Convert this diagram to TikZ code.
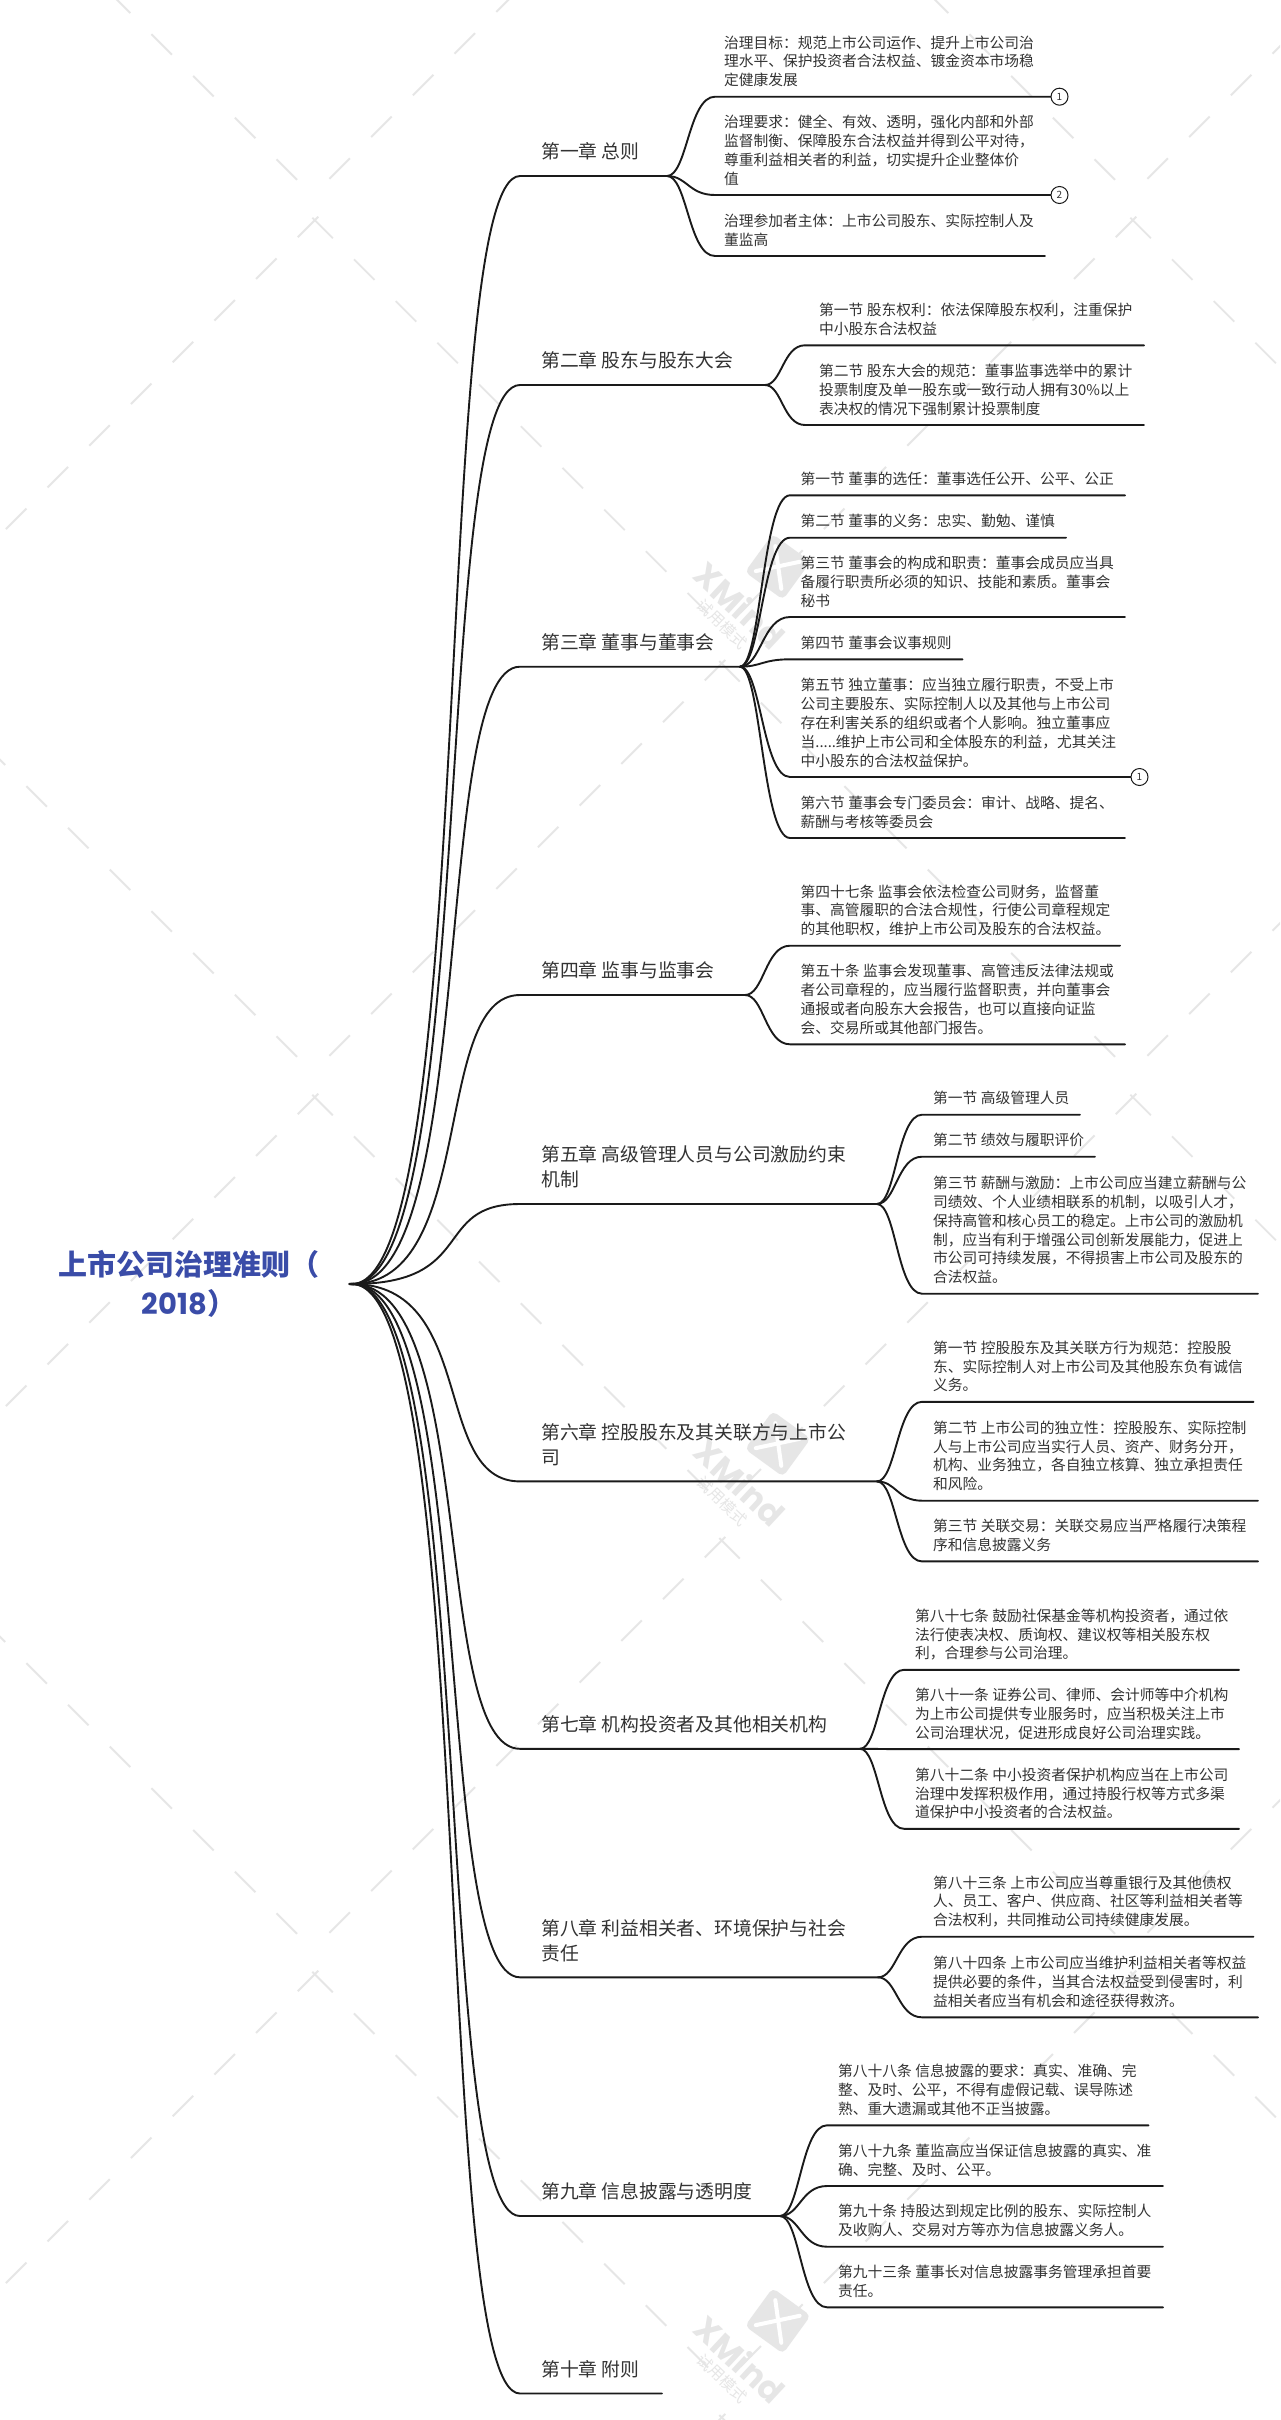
\documentclass[tikz,border=0pt]{standalone}
\usepackage{fontspec}
\setmainfont{Noto Sans CJK SC}
\newfontfamily\latinbold{Poppins}
\usetikzlibrary{calc}
\definecolor{ink}{HTML}{1A1A1A}
\definecolor{txt}{HTML}{333333}
\definecolor{wmc}{HTML}{E6E6E6}
\definecolor{rootblue}{HTML}{3A4CA8}
\tikzset{
  branch/.style={draw=ink,line width=1.9pt,line cap=round},
  twig/.style={draw=ink,line width=1.9pt,line cap=round},
  chaptext/.style={inner sep=0pt,anchor=south west,align=left,text=txt,yshift=9.4pt,font=\fontsize{18.8}{25}\selectfont},
  leaftext/.style={inner sep=0pt,anchor=south west,align=left,text=txt,yshift=5pt,font=\fontsize{14.75}{18.9}\selectfont},
  bubble/.style={circle,draw=ink,line width=1pt,fill=white,minimum size=17pt,inner sep=0pt,text=txt,font=\fontsize{10}{10}\selectfont},
  wmline/.style={draw=wmc,line width=1.9pt},
  wmcross/.style={draw=white,line width=4pt,line cap=round},
}
\newcommand{\chapnode}[4]{% name, y, xend, text
  \coordinate (#1-s) at (520,#2);
  \coordinate (#1-e) at (#3,#2);
  \node[chaptext] (#1) at (541,#2) {#4\strut};
  \draw[branch] (hub) .. controls (478,1284) and (431,#2) .. (#1-s) -- (#1-e);
}
\newcommand{\leafnode}[5]{% parent, name, y, xend, text
  \coordinate (#2-s) at (\sx,#3);
  \coordinate (#2-e) at (#4,#3);
  \node[leaftext] (#2) at (\tx,#3) {#5\strut};
  \draw[twig] let \p1=(#1-e),\p2=(#2-s) in (#1-e) .. controls ({\x1+.42*(\x2-\x1)},{\y1}) and ({\x1+.45*(\x2-\x1)},{\y2}) .. (#2-s) -- (#2-e);
}
\newcommand{\wmark}[2]{% name, y
  \node[rotate=-36,fill=wmc,rounded corners=5pt,minimum size=47pt,inner sep=0pt] (#1-logo) at (777.8,#2) {};
  \draw[wmcross] ($(#1-logo)+(-2.5,-20.7)$) -- ($(#1-logo)+(3.5,22)$);
  \draw[wmcross] ($(#1-logo)+(-22,4.3)$) -- ($(#1-logo)+(21.8,-5)$);
  \node[rotate=-43,inner sep=0pt,text=wmc] (#1-name) at (740,#2+38.5) {\fontsize{33}{33}\selectfont\latinbold\bfseries XMind};
  \node[rotate=-44,inner sep=0pt,text=wmc] (#1-trial) at (722.3,#2+57.5) {\fontsize{15.5}{15.5}\selectfont 试用模式};
}
\begin{document}
\begin{tikzpicture}[x=1pt,y=-1pt]
\fill[white] (0,0) rectangle (1280,2420);
\useasboundingbox (0,0) rectangle (1280,2420);
\begin{scope}
\clip (0,0) rectangle (1280,2420);
\foreach \i in {-1,0,1}{\foreach \j in {-1,0,1,2,3}{\foreach \k in {0,...,9}{
  \draw[wmline] ({312.3+818*\i+41.7*\k},{217.7+877*\j+41.7*\k}) -- ++(20.5,20.5);
  \draw[wmline] ({318.3+818*\i-41.7*\k},{216.7+877*\j+41.7*\k}) -- ++(-20.5,20.5);
  \draw[wmline] ({719.3+818*\i+41.7*\k},{661+877*\j-877+41.7*\k}) -- ++(20.5,20.5);
  \draw[wmline] ({725.3+818*\i-41.7*\k},{660+877*\j-877+41.7*\k}) -- ++(-20.5,20.5);
}}}
\end{scope}
\wmark{wa}{566.8}
\wmark{wb}{1443.8}
\wmark{wc}{2320.8}

\coordinate (hub) at (352,1284);
\node[inner sep=0pt,align=center,text=rootblue,font=\fontsize{29}{39}\selectfont\bfseries] (root) at (189,1284) {上市公司治理准则（\\{\latinbold 2018}）};
\fill[ink] (hub) ellipse (4pt and 1.5pt);

% chapter 1
\chapnode{c1}{176}{667}{第一章 总则}
\def\sx{715}\def\tx{724}
\leafnode{c1}{c1a}{96.7}{1051}{治理目标：规范上市公司运作、提升上市公司治\\理水平、保护投资者合法权益、镀金资本市场稳\\定健康发展}
\node[bubble] (c1an) at (1059.5,96.7) {1};
\leafnode{c1}{c1b}{195}{1051}{治理要求：健全、有效、透明，强化内部和外部\\监督制衡、保障股东合法权益并得到公平对待，\\尊重利益相关者的利益，切实提升企业整体价\\值}
\node[bubble] (c1bn) at (1059.5,195) {2};
\leafnode{c1}{c1c}{256}{1045}{治理参加者主体：上市公司股东、实际控制人及\\董监高}

% chapter 2
\chapnode{c2}{385}{765}{第二章 股东与股东大会}
\def\sx{805}\def\tx{819}
\leafnode{c2}{c2a}{345.3}{1144}{第一节 股东权利：依法保障股东权利，注重保护\\中小股东合法权益}
\leafnode{c2}{c2b}{425}{1144}{第二节 股东大会的规范：董事监事选举中的累计\\投票制度及单一股东或一致行动人拥有30\%以上\\表决权的情况下强制累计投票制度}

% chapter 3
\chapnode{c3}{666.7}{740}{第三章 董事与董事会}
\def\sx{790}\def\tx{800.5}
\leafnode{c3}{c3a}{495.3}{1125}{第一节 董事的选任：董事选任公开、公平、公正}
\leafnode{c3}{c3b}{537.7}{1066}{第二节 董事的义务：忠实、勤勉、谨慎}
\leafnode{c3}{c3c}{617}{1125}{第三节 董事会的构成和职责：董事会成员应当具\\备履行职责所必须的知识、技能和素质。董事会\\秘书}
\leafnode{c3}{c3d}{659.3}{962.5}{第四节 董事会议事规则}
\leafnode{c3}{c3e}{777}{1131}{第五节 独立董事：应当独立履行职责，不受上市\\公司主要股东、实际控制人以及其他与上市公司\\存在利害关系的组织或者个人影响。独立董事应\\当.....维护上市公司和全体股东的利益，尤其关注\\中小股东的合法权益保护。}
\node[bubble] (c3en) at (1139.5,777) {1};
\leafnode{c3}{c3f}{838}{1125}{第六节 董事会专门委员会：审计、战略、提名、\\薪酬与考核等委员会}

% chapter 4
\chapnode{c4}{995}{745}{第四章 监事与监事会}
\def\sx{790}\def\tx{800.5}
\leafnode{c4}{c4a}{945.7}{1120}{第四十七条 监事会依法检查公司财务，监督董\\事、高管履职的合法合规性，行使公司章程规定\\的其他职权，维护上市公司及股东的合法权益。}
\leafnode{c4}{c4b}{1044.3}{1125}{第五十条 监事会发现董事、高管违反法律法规或\\者公司章程的，应当履行监督职责，并向董事会\\通报或者向股东大会报告，也可以直接向证监\\会、交易所或其他部门报告。}

% chapter 5
\chapnode{c5}{1204}{877}{第五章 高级管理人员与公司激励约束\\机制}
\def\sx{922}\def\tx{933}
\leafnode{c5}{c5a}{1114.7}{1080}{第一节 高级管理人员}
\leafnode{c5}{c5b}{1156.7}{1095}{第二节 绩效与履职评价}
\leafnode{c5}{c5c}{1293.7}{1258}{第三节 薪酬与激励：上市公司应当建立薪酬与公\\司绩效、个人业绩相联系的机制，以吸引人才，\\保持高管和核心员工的稳定。上市公司的激励机\\制，应当有利于增强公司创新发展能力，促进上\\市公司可持续发展，不得损害上市公司及股东的\\合法权益。}

% chapter 6
\chapnode{c6}{1481.4}{877}{第六章 控股股东及其关联方与上市公\\司}
\def\sx{922}\def\tx{933}
\leafnode{c6}{c6a}{1401.8}{1253.5}{第一节 控股股东及其关联方行为规范：控股股\\东、实际控制人对上市公司及其他股东负有诚信\\义务。}
\leafnode{c6}{c6b}{1500.7}{1258}{第二节 上市公司的独立性：控股股东、实际控制\\人与上市公司应当实行人员、资产、财务分开，\\机构、业务独立，各自独立核算、独立承担责任\\和风险。}
\leafnode{c6}{c6c}{1561.4}{1258}{第三节 关联交易：关联交易应当严格履行决策程\\序和信息披露义务}

% chapter 7
\chapnode{c7}{1748.8}{860}{第七章 机构投资者及其他相关机构}
\def\sx{904}\def\tx{915}
\leafnode{c7}{c7a}{1669.8}{1239}{第八十七条 鼓励社保基金等机构投资者，通过依\\法行使表决权、质询权、建议权等相关股东权\\利，合理参与公司治理。}
\leafnode{c7}{c7b}{1749.1}{1239}{第八十一条 证券公司、律师、会计师等中介机构\\为上市公司提供专业服务时，应当积极关注上市\\公司治理状况，促进形成良好公司治理实践。}
\leafnode{c7}{c7c}{1828.8}{1239}{第八十二条 中小投资者保护机构应当在上市公司\\治理中发挥积极作用，通过持股行权等方式多渠\\道保护中小投资者的合法权益。}

% chapter 8
\chapnode{c8}{1977.3}{878}{第八章 利益相关者、环境保护与社会\\责任}
\def\sx{922}\def\tx{933}
\leafnode{c8}{c8a}{1936.7}{1253.5}{第八十三条 上市公司应当尊重银行及其他债权\\人、员工、客户、供应商、社区等利益相关者等\\合法权利，共同推动公司持续健康发展。}
\leafnode{c8}{c8b}{2017.3}{1258}{第八十四条 上市公司应当维护利益相关者等权益\\提供必要的条件，当其合法权益受到侵害时，利\\益相关者应当有机会和途径获得救济。}

% chapter 9
\chapnode{c9}{2216}{780}{第九章 信息披露与透明度}
\def\sx{827}\def\tx{838}
\leafnode{c9}{c9a}{2125.3}{1148.5}{第八十八条 信息披露的要求：真实、准确、完\\整、及时、公平，不得有虚假记载、误导陈述\\熟、重大遗漏或其他不正当披露。}
\leafnode{c9}{c9b}{2186}{1163}{第八十九条 董监高应当保证信息披露的真实、准\\确、完整、及时、公平。}
\leafnode{c9}{c9c}{2246.7}{1163}{第九十条 持股达到规定比例的股东、实际控制人\\及收购人、交易对方等亦为信息披露义务人。}
\leafnode{c9}{c9d}{2307.3}{1163}{第九十三条 董事长对信息披露事务管理承担首要\\责任。}

% chapter 10
\chapnode{c10}{2393.5}{662}{第十章 附则}
\end{tikzpicture}
\end{document}
